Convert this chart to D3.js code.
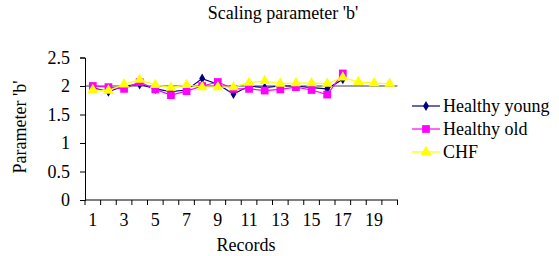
<!DOCTYPE html>
<html><head><meta charset="utf-8">
<script src="https://cdn.jsdelivr.net/npm/d3@7"></script>
<style>
html,body{margin:0;padding:0;background:#fff;}
svg{display:block;}
.sf{font-family:"Liberation Serif";}
</style></head>
<body><svg id="c" width="559" height="256"></svg>
<script>
const records = d3.range(1, 21);
const xTickLabels = [1,3,5,7,9,11,13,15,17,19];
const yTicks = [0, 0.5, 1, 1.5, 2, 2.5];
const healthyYoung = [1.97,1.90,2.00,2.03,1.95,1.90,1.93,2.13,2.03,1.86,2.00,1.97,2.00,2.00,1.97,1.95,2.12];
const healthyOld   = [2.00,1.98,1.95,2.07,1.94,1.84,1.91,2.00,2.07,1.95,1.95,1.92,1.94,1.98,1.93,1.85,2.22];
const chf          = [1.93,1.92,2.03,2.11,2.02,1.97,2.02,1.98,1.98,1.98,2.06,2.09,2.04,2.05,2.05,2.04,2.15,2.07,2.05,2.04];
const seriesNames = ["Healthy young","Healthy old","CHF"];
const refLine = 2;

const svg = d3.select("#c");
const x = d3.scaleBand().domain(records).range([85, 397.5]);
const y = d3.scaleLinear().domain([0, 2.5]).range([200, 57.5]);
const fs = 18;
const txt = sel => sel.attr("class","sf").style("font-family", "'Liberation Serif'")
  .attr("font-size", fs).attr("fill","#000");

// title
svg.append("text").attr("x", 283).attr("y", 19).attr("text-anchor","middle")
  .call(txt).text("Scaling parameter 'b'");

// reference line at 2
svg.append("line").attr("x1", x.range()[0]).attr("x2", x.range()[1])
  .attr("y1", y(refLine)).attr("y2", y(refLine)).attr("stroke","#808080").attr("stroke-width",1.5);

// y axis
const yAxis = d3.axisLeft(y).tickValues(yTicks).tickSize(5).tickPadding(10)
  .tickFormat(d => String(d));
const gy = svg.append("g").attr("transform","translate(85,0)").call(yAxis);
gy.attr("font-family", null).attr("font-size", null);
gy.select(".domain").attr("stroke","#000");
gy.selectAll("text").call(txt);

// x axis
svg.append("line").attr("x1", x.range()[0]).attr("x2", x.range()[1]+0.5)
  .attr("y1", y(0)).attr("y2", y(0)).attr("stroke","#000");
const bounds = records.map(d => x(d)).concat([x.range()[1]]);
svg.append("g").selectAll("line").data(bounds).join("line")
  .attr("x1", d => d).attr("x2", d => d).attr("y1", y(0)).attr("y2", y(0)+5).attr("stroke","#000");
const xAxis = d3.axisBottom(x).tickValues(xTickLabels).tickSize(0).tickPadding(13);
const gx = svg.append("g").attr("transform",`translate(0,${y(0)})`).call(xAxis);
gx.attr("font-family", null).attr("font-size", null);
gx.select(".domain").remove();
gx.selectAll("text").call(txt);

// axis titles
svg.append("text").attr("x", 246).attr("y", 251).attr("text-anchor","middle")
  .call(txt).text("Records");
svg.append("text").attr("transform","translate(26,127) rotate(-90)").attr("text-anchor","middle")
  .call(txt).text("Parameter 'b'");

// series
const cx = d => x(d) + x.bandwidth()/2;
const line = d3.line().x((d,i) => cx(records[i])).y(d => y(d));
const styles = [
  {data: healthyYoung, color:"#000080", sym: d3.symbolDiamond, size: 30},
  {data: healthyOld, color:"#FF00FF", sym: d3.symbolSquare, size: 60},
  {data: chf, color:"#FFFF00", sym: d3.symbolTriangle, size: 50}
];
styles.forEach(s => {
  svg.append("path").datum(s.data).attr("d", line).attr("fill","none")
    .attr("stroke", s.color).attr("stroke-width", 1.2);
  svg.append("g").selectAll("path").data(s.data).join("path")
    .attr("transform", (d,i) => `translate(${cx(records[i])},${y(d)})`)
    .attr("d", d3.symbol().type(s.sym).size(s.size)).attr("fill", s.color);
});

// legend
const legY = [106, 129, 152];
styles.forEach((s, i) => {
  const g = svg.append("g").attr("transform", `translate(0,${legY[i]})`);
  g.append("line").attr("x1", 412).attr("x2", 440).attr("y1", 0).attr("y2", 0)
    .attr("stroke", s.color).attr("stroke-width", 1.2);
  g.append("path").attr("transform","translate(426,0)")
    .attr("d", d3.symbol().type(s.sym).size(s.size)).attr("fill", s.color);
  g.append("text").attr("x", 443).attr("y", 6).call(txt).text(seriesNames[i]);
});
</script></body></html>
